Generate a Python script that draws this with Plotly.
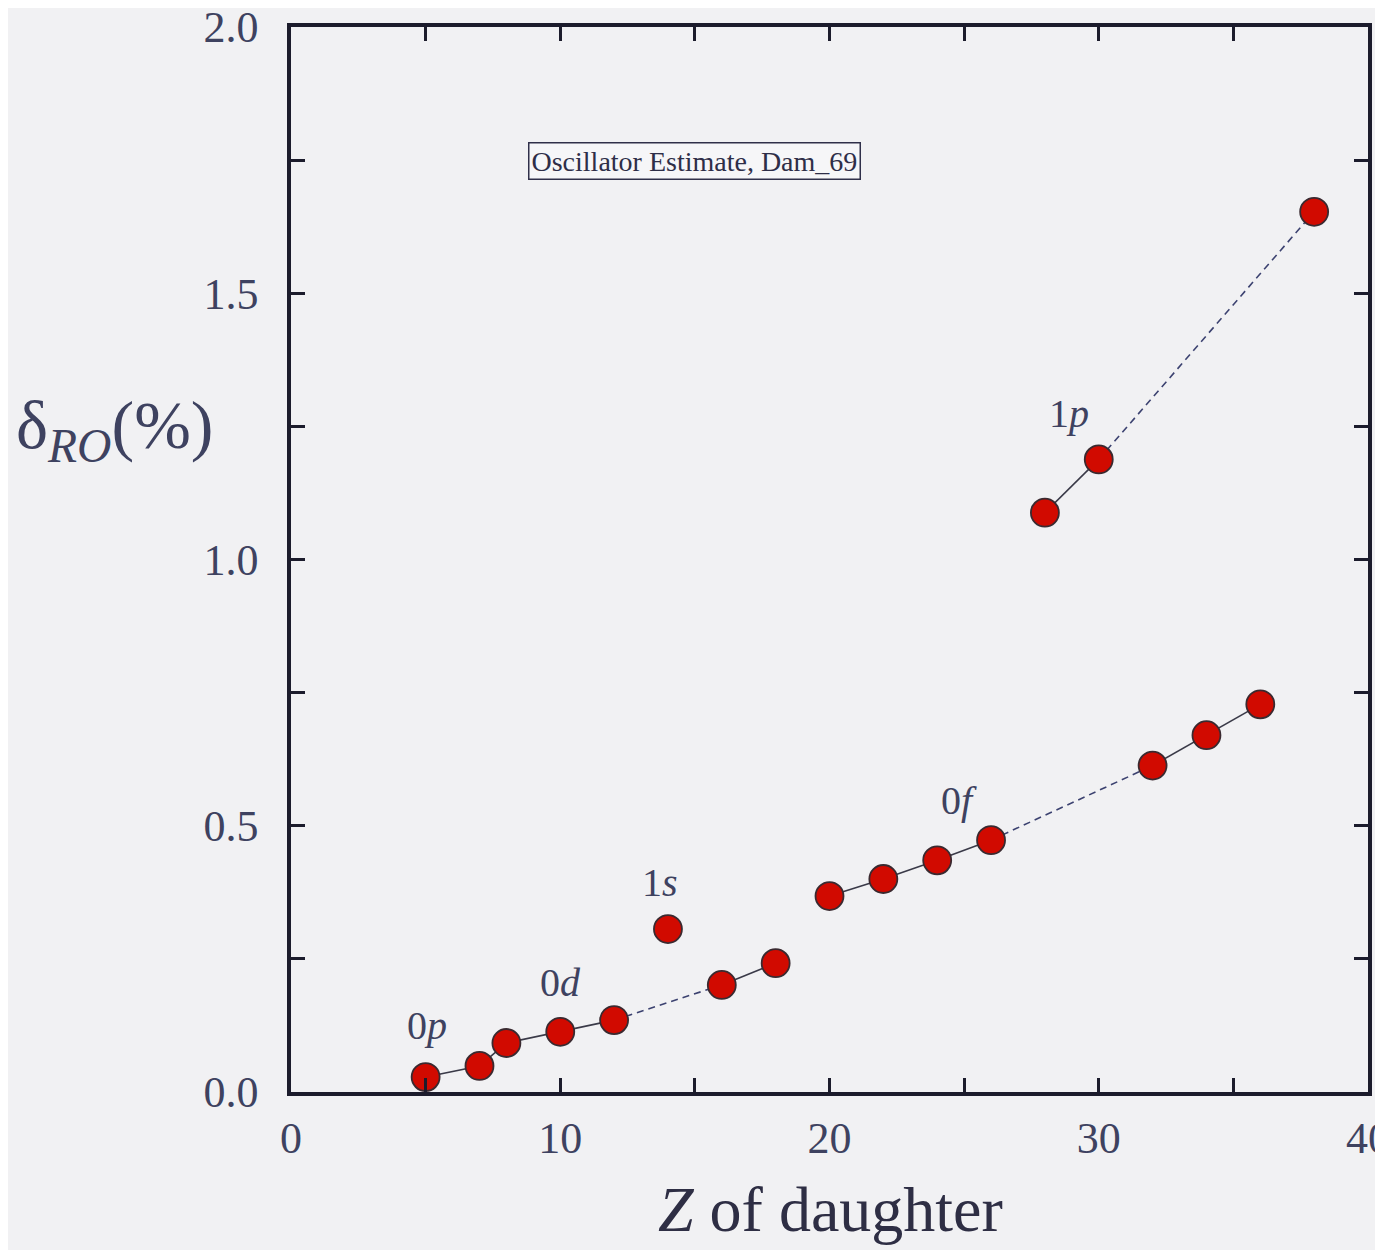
import plotly.graph_objects as go

# Data
z_vals = [5, 7, 8, 10, 12, 14, 16, 18, 20, 22, 24, 26, 28, 30, 32, 34, 36, 38]
delta_vals = [0.028, 0.049, 0.092, 0.113, 0.135, 0.306, 0.201, 0.242, 0.368, 0.400,
              0.435, 0.473, 1.088, 1.188, 0.613, 0.670, 0.728, 1.653]

solid_groups = [[5, 7, 8, 10, 12], [16, 18], [20, 22, 24, 26], [32, 34, 36], [28, 30]]
dashed_groups = [[12, 16], [26, 32], [30, 38]]

shell_labels = ["0<i>p</i>", "0<i>d</i>", "1<i>s</i>", "0<i>f</i>", "1<i>p</i>"]
shell_x = [5.05, 10.0, 13.7, 24.8, 28.9]
shell_y = [0.125, 0.205, 0.394, 0.548, 1.275]

x_ticks = [0, 5, 10, 15, 20, 25, 30, 35, 40]
x_ticktext = ["0", "", "10", "", "20", "", "30", "", "40"]
y_ticks = [0, 0.25, 0.5, 0.75, 1.0, 1.25, 1.5, 1.75, 2.0]
y_ticktext = ["0.0", "", "0.5", "", "1.0", "", "1.5", "", "2.0"]

lookup = dict(zip(z_vals, delta_vals))

fig = go.Figure()
for g in solid_groups:
    fig.add_trace(go.Scatter(x=g, y=[lookup[v] for v in g], mode="lines",
                             line=dict(color="#3a3a48", width=1.6),
                             showlegend=False, hoverinfo="skip"))
for g in dashed_groups:
    fig.add_trace(go.Scatter(x=g, y=[lookup[v] for v in g], mode="lines",
                             line=dict(color="#3c4270", width=1.6, dash="7px,5px"),
                             showlegend=False, hoverinfo="skip"))

fig.add_trace(go.Scatter(x=z_vals, y=delta_vals, mode="markers",
                         marker=dict(size=28, color="#d10a00",
                                     line=dict(color="#3a2a30", width=1.8)),
                         showlegend=False))

font_serif = "Liberation Serif, DejaVu Serif, serif"
text_col = "#3e4260"

for t, xx, yy in zip(shell_labels, shell_x, shell_y):
    fig.add_annotation(x=xx, y=yy, text=t, showarrow=False,
                       font=dict(family=font_serif, size=40, color=text_col))

fig.add_annotation(x=15.0, y=1.748, text="Oscillator Estimate, Dam_69", showarrow=False,
                   font=dict(family=font_serif, size=28, color="#2e2e48"),
                   bordercolor="#30304a", borderwidth=1.5, borderpad=2, bgcolor="#f6f6f8")

fig.add_annotation(xref="paper", yref="paper", x=-0.164, y=0.622, xanchor="center",
                   yanchor="middle",
                   text="δ<sub><i>RO</i></sub>(%)", showarrow=False,
                   font=dict(family=font_serif, size=68, color=text_col))
fig.add_annotation(xref="paper", yref="paper", x=0.501, y=-0.146, xanchor="center",
                   yanchor="bottom",
                   text="<i>Z</i> of daughter", showarrow=False,
                   font=dict(family=font_serif, size=64, color="#2e2e44"))

axis_common = dict(showgrid=False, zeroline=False, showline=True, linecolor="#1c1c2c",
                   linewidth=3.5, mirror="ticks", ticks="inside", ticklen=14,
                   tickwidth=3, tickcolor="#1c1c2c", ticklabeloverflow="allow",
                   automargin=False,
                   tickfont=dict(family=font_serif, size=44, color=text_col))

fig.update_xaxes(range=[0, 40], tickmode="array", tickvals=x_ticks, ticktext=x_ticktext,
                 ticklabelstandoff=4, **axis_common)
fig.update_yaxes(range=[0, 2.0], tickmode="array", tickvals=y_ticks, ticktext=y_ticktext,
                 ticklabelstandoff=20, **axis_common)

fig.update_layout(width=1367, height=1242,
                  margin=dict(l=283, r=7, t=19, b=158, autoexpand=False),
                  paper_bgcolor="#f1f1f3", plot_bgcolor="#f1f1f3")

fig.write_html("out.html")
